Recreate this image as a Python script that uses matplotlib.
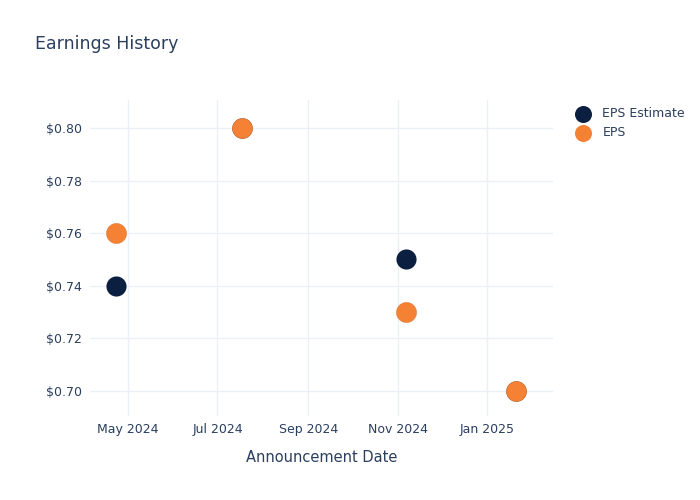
import matplotlib
matplotlib.use("Agg")
import matplotlib.pyplot as plt
import matplotlib.dates as mdates
import numpy as np
import pandas as pd

# data
dates = pd.to_datetime(["2024-04-23", "2024-07-18", "2024-11-07", "2025-01-21"])
eps_estimate = [0.74, 0.80, 0.75, 0.70]
eps_actual = [0.76, 0.80, 0.73, 0.70]
tick_dates = pd.to_datetime(["2024-05-01", "2024-07-01", "2024-09-01", "2024-11-01", "2025-01-01"])
tick_labels = ["May 2024", "Jul 2024", "Sep 2024", "Nov 2024", "Jan 2025"]
y_ticks = [0.70, 0.72, 0.74, 0.76, 0.78, 0.80]

navy = "#0b1f41"
orange = "#f58134"
text_col = "#2a3f5f"
grid_col = "#ebf0f8"

fig = plt.figure(figsize=(7, 5), dpi=100)
ax = fig.add_axes([90 / 700, 1 - 416 / 500, (553 - 90) / 700, (416 - 100) / 500])

ax.scatter(dates, eps_estimate, s=210, color=navy, zorder=3, label="EPS Estimate", linewidths=0)
ax.scatter(dates, eps_actual, s=210, color=orange, zorder=4, label="EPS",
           edgecolors="#d9702c", linewidths=0.3)

ax.set_xlim(pd.Timestamp("2024-04-05"), pd.Timestamp("2025-02-15"))
ax.set_ylim(0.6905, 0.8106)
ax.set_xticks(tick_dates)
ax.set_xticklabels(tick_labels)
ax.set_yticks(y_ticks)
ax.set_yticklabels([f"${v:.2f}" for v in y_ticks])

for s in ax.spines.values():
    s.set_visible(False)
ax.grid(True, color=grid_col, linewidth=1)
ax.set_axisbelow(True)
ax.tick_params(length=0, labelsize=9, colors=text_col, pad=6)
ax.tick_params(axis="x", pad=5)

ax.set_xlabel("Announcement Date", fontsize=10.5, color=text_col, labelpad=10)
fig.text(35 / 700, 1 - 44 / 500, "Earnings History", fontsize=12.5, color=text_col, va="center")

leg = fig.legend(loc="upper left", bbox_to_anchor=(570 / 700, 1 - 107 / 500), frameon=False,
                 fontsize=9, labelcolor=text_col, handletextpad=0.6, labelspacing=0.5,
                 borderaxespad=0, borderpad=0)
for h in leg.legend_handles:
    h.set_sizes([150])
    h.set_linewidth(0)

fig.savefig("out.png", dpi=100)
